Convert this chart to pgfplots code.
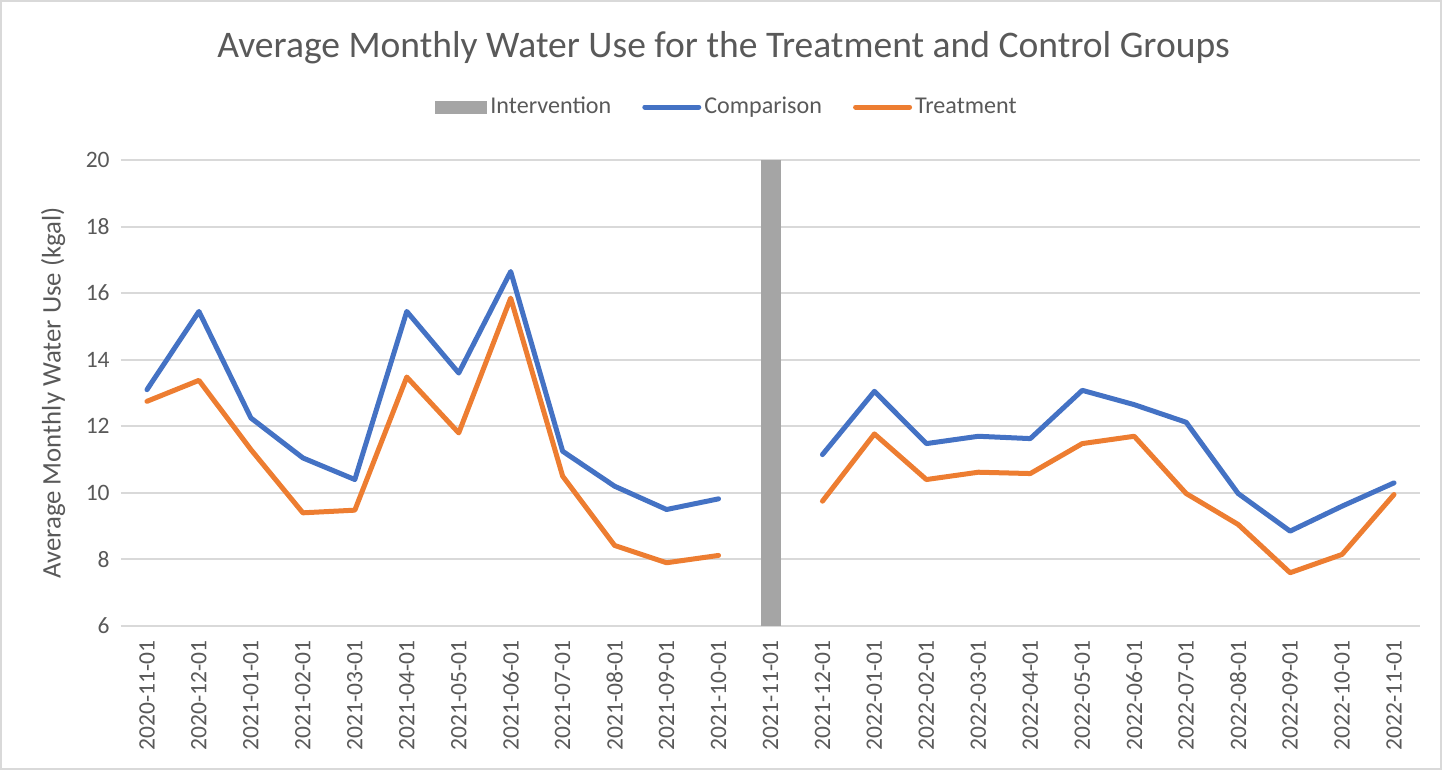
\documentclass[border=0pt]{standalone}
\usepackage{fontspec}
\setmainfont{Carlito}
\usepackage{pgfplots}
\pgfplotsset{compat=1.18}
\definecolor{cblue}{HTML}{4472C4}
\definecolor{corange}{HTML}{ED7D31}
\definecolor{cgray}{HTML}{A5A5A5}
\definecolor{ctext}{HTML}{595959}
\definecolor{cgrid}{HTML}{D9D9D9}
\begin{document}
\begin{tikzpicture}
\path[use as bounding box] (-60.5bp,-72bp) rectangle (660.5bp,313bp);
\draw[cgrid, line width=1bp] (-60bp,-71.5bp) rectangle (660bp,312.5bp);
\begin{axis}[
  scale only axis, width=649.5bp, height=233bp,
  xmin=-0.5, xmax=24.5, ymin=6, ymax=20,
  xtick={0,...,24},
  xticklabels={2020-11-01,2020-12-01,2021-01-01,2021-02-01,2021-03-01,2021-04-01,2021-05-01,2021-06-01,2021-07-01,2021-08-01,2021-09-01,2021-10-01,2021-11-01,2021-12-01,2022-01-01,2022-02-01,2022-03-01,2022-04-01,2022-05-01,2022-06-01,2022-07-01,2022-08-01,2022-09-01,2022-10-01,2022-11-01},
  ytick={6,8,...,20},
  unbounded coords=jump,
  axis line style={draw=none},
  major tick length=0pt,
  ymajorgrids, grid style={cgrid, line width=1bp},
  /pgf/number format/assume math mode=true,
  ticklabel style={font=\fontsize{11.8}{14}\selectfont, text=ctext},
  xticklabel style={rotate=90, anchor=east, inner xsep=7bp, inner ysep=0pt},
  yticklabel style={anchor=east, inner xsep=5.5bp, inner ysep=0pt},
  every axis title shift=0pt,
  title={Average Monthly Water Use for the Treatment and Control Groups},
  title style={at={(axis description cs:0.4638,1.2404)}, anchor=center, font=\fontsize{18.85}{22}\selectfont, text=ctext},
  ylabel={Average Monthly Water Use (kgal)},
  ylabel style={at={(axis description cs:-0.0523,0.5)}, anchor=center, font=\fontsize{13.45}{15}\selectfont, text=ctext},
  legend columns=3,
  legend style={at={(axis description cs:0.4669,1.1137)}, anchor=center, draw=none, fill=none,
    font=\fontsize{12.1}{14}\selectfont, text=ctext,
    nodes={inner xsep=1.5bp, inner ysep=1bp},
    /tikz/every even column/.append style={column sep=14bp}},
]
\addplot[ybar, bar width=10bp, fill=cgray, draw=none,
  legend image code/.code={\fill[cgray] (0bp,-3.25bp) rectangle (26bp,3.25bp);}]
  coordinates {(12,20)};
\addlegendentry{Intervention}
\addplot[cblue, line width=2.5bp, line join=round, line cap=round,
  legend image code/.code={\draw[cblue, line width=2.5bp, line cap=round] (1bp,0) -- (28bp,0);}]
  coordinates {(0,13.1) (1,15.45) (2,12.25) (3,11.05) (4,10.4) (5,15.45) (6,13.6) (7,16.65) (8,11.25) (9,10.2) (10,9.5) (11,9.82) (12,nan) (13,11.15) (14,13.05) (15,11.48) (16,11.7) (17,11.63) (18,13.08) (19,12.65) (20,12.12) (21,9.98) (22,8.85) (23,9.6) (24,10.3)};
\addlegendentry{Comparison}
\addplot[corange, line width=2.5bp, line join=round, line cap=round,
  legend image code/.code={\draw[corange, line width=2.5bp, line cap=round] (1bp,0) -- (28bp,0);}]
  coordinates {(0,12.75) (1,13.38) (2,11.3) (3,9.4) (4,9.48) (5,13.48) (6,11.8) (7,15.85) (8,10.5) (9,8.42) (10,7.9) (11,8.12) (12,nan) (13,9.75) (14,11.77) (15,10.4) (16,10.62) (17,10.58) (18,11.48) (19,11.7) (20,9.98) (21,9.05) (22,7.6) (23,8.15) (24,9.95)};
\addlegendentry{Treatment}
\end{axis}
\end{tikzpicture}
\end{document}
